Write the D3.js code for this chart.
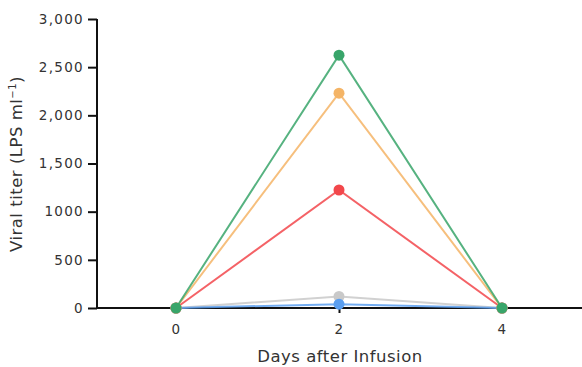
<!DOCTYPE html>
<html>
<head>
<meta charset="utf-8">
<script src="https://cdn.jsdelivr.net/npm/d3@7"></script>
<style>
  html, body { margin: 0; padding: 0; background: #fff; }
  svg { display: block; }
  text { font-family: "DejaVu Sans", sans-serif; fill: #333; }
</style>
</head>
<body>
<svg id="chart" width="582" height="367"></svg>
<script>
// Days sampled after infusion
const days = [0, 2, 4];

// Viral titer per subject (LPS ml^-1)
const greenSeries  = [0, 2625, 0];
const orangeSeries = [0, 2230, 0];
const redSeries    = [0, 1225, 0];
const greySeries   = [0, 120, 0];
const blueSeries   = [0, 40, 0];

const seriesNames  = ["grey", "blue", "red", "orange", "green"];
const seriesValues = [greySeries, blueSeries, redSeries, orangeSeries, greenSeries];
const seriesColors = ["#c9c9c9", "#5b9ff0", "#f2474b", "#f4b466", "#38a56a"];

// Y-axis tick values and their printed labels
const yTickValues = [0, 500, 1000, 1500, 2000, 2500, 3000];
const yTickLabels = ["0", "500", "1000", "1,500", "2,000", "2,500", "3,000"];
const xTickValues = [0, 2, 4];
const xTickLabels = ["0", "2", "4"];

const svg = d3.select("#chart");
const axisX0 = 97, axisX1 = 582, baseY = 308, topY = 19;
const fontStack = "\"DejaVu Sans\", sans-serif";

const x = d3.scaleLinear().domain([0, 4]).range([176, 502]);
const y = d3.scaleLinear().domain([0, 3000]).range([baseY, topY]);

function styleTicks(g) {
  g.selectAll(".tick line").attr("stroke", "#111").attr("stroke-width", 2);
  g.selectAll(".tick text").attr("font-size", 13.5).attr("fill", "#333")
    .attr("font-family", fontStack).attr("letter-spacing", 1.3);
}

// Y axis
const yAxis = svg.append("g").attr("transform", `translate(${axisX0},0)`)
  .call(d3.axisLeft(y).tickValues(yTickValues)
    .tickFormat((d, i) => yTickLabels[i]).tickSize(9).tickPadding(4));
yAxis.select(".domain").attr("stroke", "#111").attr("stroke-width", 2)
  .attr("d", `M0,${topY}V${baseY}`);
styleTicks(yAxis);

// X axis: baseline spans full plot width
const xAxis = svg.append("g").attr("transform", `translate(0,${baseY})`)
  .call(d3.axisBottom(x).tickValues(xTickValues)
    .tickFormat((d, i) => xTickLabels[i]).tickSize(5).tickPadding(11));
xAxis.select(".domain").attr("stroke", "#111").attr("stroke-width", 2)
  .attr("d", `M${axisX0},0H${axisX1}`);
styleTicks(xAxis);

// Axis titles
svg.append("text")
  .attr("x", 340).attr("y", 362)
  .attr("text-anchor", "middle").attr("font-size", 16.5).attr("letter-spacing", 0.5)
  .text("Days after Infusion");

const yt = svg.append("text")
  .attr("transform", "translate(22,164) rotate(-90)")
  .attr("text-anchor", "middle").attr("font-size", 16.5).attr("letter-spacing", 0.5);
yt.append("tspan").text("Viral titer (LPS ml");
yt.append("tspan").attr("dy", -6).attr("font-size", 10).text("−1");
yt.append("tspan").attr("dy", 6).text(")");

// Series lines and points
const line = d3.line().x((d, i) => x(days[i])).y(d => y(d));
const plot = svg.append("g");
seriesValues.forEach((vals, k) => {
  const g = plot.append("g").attr("class", "series-" + seriesNames[k]);
  g.append("path").datum(vals)
    .attr("d", line).attr("fill", "none")
    .attr("stroke", seriesColors[k]).attr("stroke-width", 2)
    .attr("stroke-opacity", 0.85);
  g.selectAll("circle").data(vals).join("circle")
    .attr("cx", (d, i) => x(days[i])).attr("cy", d => y(d))
    .attr("r", 5.5).attr("fill", seriesColors[k]);
});
</script>
</body>
</html>
